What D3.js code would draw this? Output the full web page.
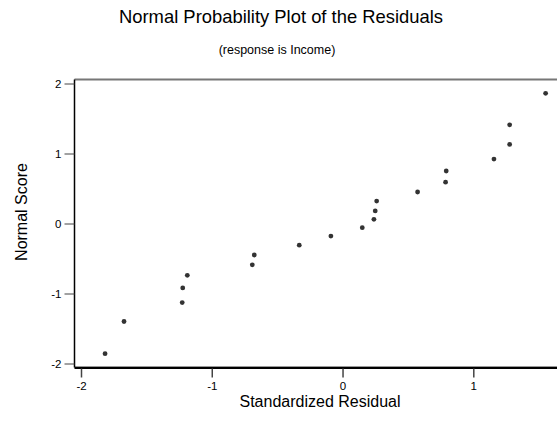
<!DOCTYPE html>
<html><head><meta charset="utf-8">
<script src="https://cdn.jsdelivr.net/npm/d3@7"></script>
<style>body{margin:0;background:#fff}svg{display:block;font-family:"Liberation Sans",Arial,sans-serif}</style>
</head><body><svg id="c" width="557" height="424"></svg>
<script>
const residuals = [-1.816,-1.671,-1.226,-1.222,-1.187,-0.690,-0.675,-0.331,-0.089,0.151,0.240,0.250,0.261,0.574,0.788,0.793,1.158,1.278,1.278,1.553];
const normalScores = [-1.86,-1.40,-1.13,-0.92,-0.74,-0.59,-0.45,-0.31,-0.18,-0.06,0.06,0.18,0.32,0.45,0.59,0.75,0.92,1.13,1.41,1.86];
const xTicks = [-2,-1,0,1];
const yTicks = [-2,-1,0,1,2];

const svg = d3.select("#c");
const x = d3.scaleLinear().domain([-2,1]).range([81,473.3]);
const y = d3.scaleLinear().domain([-2,2]).range([363.5,83.5]);
const L = 74.5, T = 79.5, B = 367.5, R = 620;
const fmt = d => String(d);

svg.append("text").attr("x",281).attr("y",23).attr("text-anchor","middle")
  .attr("font-size",18.4).attr("fill","#000").text("Normal Probability Plot of the Residuals");
svg.append("text").attr("x",277).attr("y",54).attr("text-anchor","middle")
  .attr("font-size",12.5).attr("fill","#000").text("(response is Income)");

// frame
svg.append("line").attr("x1",L).attr("x2",R).attr("y1",T).attr("y2",T).attr("stroke","#777").attr("stroke-width",2);
svg.append("line").attr("x1",L).attr("x2",R).attr("y1",B-1).attr("y2",B-1).attr("stroke","#999").attr("stroke-width",1);
svg.append("line").attr("x1",L).attr("x2",R).attr("y1",B+0.5).attr("y2",B+0.5).attr("stroke","#000").attr("stroke-width",2);
svg.append("line").attr("x1",L).attr("x2",L).attr("y1",T).attr("y2",B).attr("stroke","#000").attr("stroke-width",1.5);

// y axis
const ya = svg.append("g").attr("transform",`translate(${L},0)`)
  .call(d3.axisLeft(y).tickValues(yTicks).tickSize(10).tickPadding(3).tickFormat(fmt));
ya.select(".domain").remove();
ya.selectAll(".tick line").attr("stroke","#444");
ya.selectAll(".tick text").attr("font-size",11.5).attr("fill","#000").attr("font-family","Liberation Sans, Arial, sans-serif");

// x axis
const xa = svg.append("g").attr("transform",`translate(0,${B+1})`)
  .call(d3.axisBottom(x).tickValues(xTicks).tickSize(9).tickPadding(4).tickFormat(fmt));
xa.select(".domain").remove();
xa.selectAll(".tick line").attr("stroke","#444").attr("stroke-width",1.5);
xa.selectAll(".tick text").attr("font-size",11.5).attr("fill","#000").attr("font-family","Liberation Sans, Arial, sans-serif");

svg.append("text").attr("x",320).attr("y",407).attr("text-anchor","middle")
  .attr("font-size",16).attr("fill","#000").text("Standardized Residual");
svg.append("text").attr("transform","translate(27,212) rotate(-90)").attr("text-anchor","middle")
  .attr("font-size",16).attr("fill","#000").text("Normal Score");

svg.append("g").selectAll("circle").data(residuals.map((r,i)=>[r,normalScores[i]]))
  .join("circle").attr("cx",d=>x(d[0])).attr("cy",d=>y(d[1])).attr("r",2.4).attr("fill","#333");
</script></body></html>
